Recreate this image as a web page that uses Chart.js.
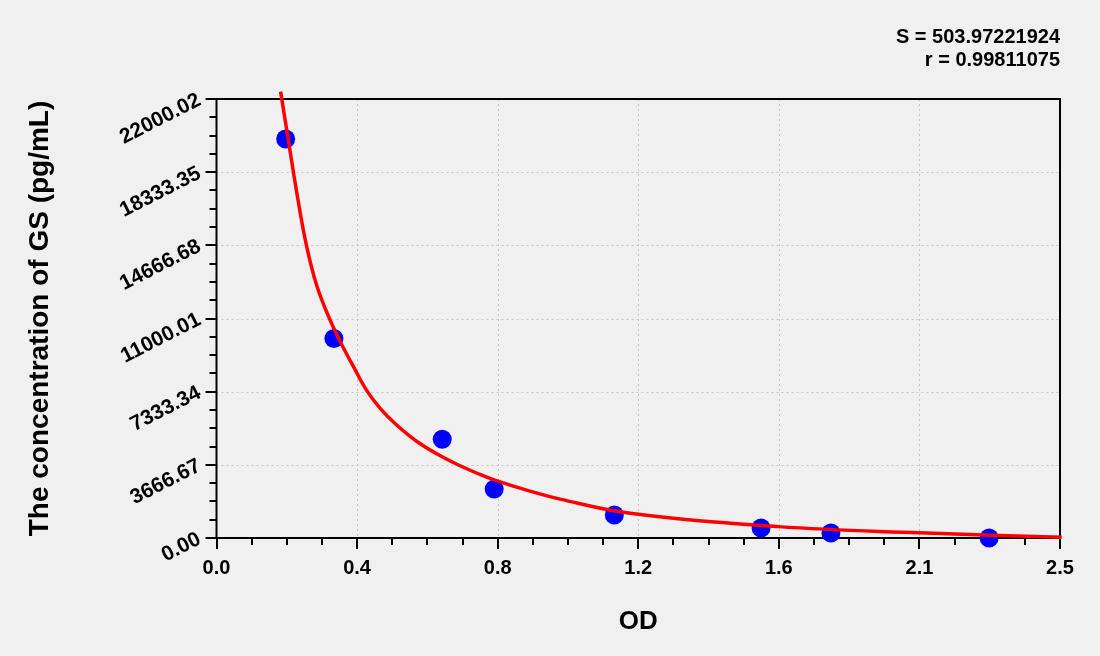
<!DOCTYPE html>
<html>
<head>
<meta charset="utf-8">
<title>GS standard curve</title>
<script src="https://cdn.jsdelivr.net/npm/chart.js@4.4.1/dist/chart.umd.min.js"></script>
<style>
  html, body { margin: 0; padding: 0; background: #f0f0f0; }
  #wrap { width: 1100px; height: 656px; position: relative; }
</style>
</head>
<body>
<div id="wrap"><canvas id="chart"></canvas></div>
<script>
// standards (OD, concentration)
var standardOD = [0.205, 0.348, 0.669, 0.823, 1.179, 1.614, 1.821, 2.290];
var standardConc = [20000, 10000, 4950, 2450, 1150, 500, 250, 0];

// fitted curve, sampled along the red line
var curveOD = [0.190, 0.213, 0.240, 0.267, 0.298, 0.336, 0.368, 0.406, 0.445, 0.485, 0.534, 0.593, 0.662, 0.722, 0.776, 0.825, 0.919, 1.018, 1.226, 1.665, 2.083, 2.505];
var curveConc = [22370, 19930, 17100, 14630, 12600, 10950, 9800, 8586, 7400, 6500, 5662, 4850, 4130, 3620, 3220, 2900, 2400, 1950, 1240, 570, 260, 35];

// axis labels
var xTickLabels = ['0.0', '0.4', '0.8', '1.2', '1.6', '2.1', '2.5'];
var yTickLabels = ['0.00', '3666.67', '7333.34', '11000.01', '14666.68', '18333.35', '22000.02'];
var xMax = 2.5;
var yMax = 22000.02;
var fitText = ['S = 503.97221924', 'r = 0.99811075'];

var MINOR = 4; // sub divisions between labelled ticks
var FONT = '"Liberation Sans", Arial, sans-serif';

function tickValues(max, labels) {
  var n = (labels.length - 1) * MINOR;
  var out = [];
  for (var i = 0; i <= n; i++) out.push({value: max * i / n});
  return out;
}

function pairs(xs, ys) {
  return xs.map(function(v, i) { return {x: v, y: ys[i]}; });
}

var frameGrid = {
  id: 'frameGrid',
  beforeDatasetsDraw: function(chart) {
    var ctx = chart.ctx, a = chart.chartArea;
    var xs = chart.scales.x, ys = chart.scales.y;
    ctx.save();
    // dotted grid at labelled ticks
    ctx.strokeStyle = '#c4c4c4';
    ctx.lineWidth = 1;
    ctx.setLineDash([2, 3]);
    xs.ticks.forEach(function(t, i) {
      if (i % MINOR || i === 0 || i === xs.ticks.length - 1) return;
      var px = Math.round(xs.getPixelForValue(t.value)) + 0.5;
      ctx.beginPath(); ctx.moveTo(px, a.top); ctx.lineTo(px, a.bottom); ctx.stroke();
    });
    ys.ticks.forEach(function(t, i) {
      if (i % MINOR || i === 0 || i === ys.ticks.length - 1) return;
      var py = Math.round(ys.getPixelForValue(t.value)) + 0.5;
      ctx.beginPath(); ctx.moveTo(a.left, py); ctx.lineTo(a.right, py); ctx.stroke();
    });
    // tick marks outside the frame
    ctx.setLineDash([]);
    ctx.strokeStyle = '#000';
    ctx.lineWidth = 2;
    xs.ticks.forEach(function(t, i) {
      var len = i % MINOR ? 7 : 11;
      var px = Math.round(xs.getPixelForValue(t.value));
      ctx.beginPath(); ctx.moveTo(px, a.bottom); ctx.lineTo(px, a.bottom + len); ctx.stroke();
    });
    ys.ticks.forEach(function(t, i) {
      var len = i % MINOR ? 7 : 11;
      var py = Math.round(ys.getPixelForValue(t.value));
      ctx.beginPath(); ctx.moveTo(a.left - len, py); ctx.lineTo(a.left, py); ctx.stroke();
    });
    ctx.strokeRect(a.left, a.top, a.right - a.left, a.bottom - a.top);
    ctx.restore();
  },
  afterDraw: function(chart) {
    var ctx = chart.ctx;
    ctx.save();
    ctx.fillStyle = '#000';
    ctx.font = 'bold 20px ' + FONT;
    ctx.textAlign = 'right';
    ctx.textBaseline = 'middle';
    ctx.fillText(fitText[0], chart.chartArea.right, 37);
    ctx.fillText(fitText[1], chart.chartArea.right, 60);
    ctx.restore();
  }
};

new Chart(document.getElementById('chart'), {
  type: 'scatter',
  data: {
    datasets: [{
      data: pairs(curveOD, curveConc),
      showLine: true,
      borderColor: '#ff0000',
      borderWidth: 3.5,
      pointRadius: 0,
      tension: 0.4,
      clip: false
    }, {
      data: pairs(standardOD, standardConc),
      pointRadius: 9.5,
      pointHoverRadius: 9.5,
      backgroundColor: '#0000ff',
      borderWidth: 0,
      clip: false
    }]
  },
  options: {
    responsive: true,
    maintainAspectRatio: false,
    animation: false,
    layout: {padding: {left: 0, right: 40, top: 99, bottom: 0}},
    plugins: {legend: {display: false}, tooltip: {enabled: false}},
    scales: {
      x: {
        type: 'linear',
        min: 0,
        max: xMax,
        afterBuildTicks: function(s) { s.ticks = tickValues(xMax, xTickLabels); },
        afterFit: function(s) { s.height = 118; },
        grid: {display: true, drawOnChartArea: false, drawTicks: true, tickLength: 11, tickColor: 'rgba(0,0,0,0)'},
        border: {display: false},
        ticks: {
          autoSkip: false,
          maxRotation: 0,
          padding: 7,
          color: '#000',
          font: {family: FONT, size: 20, weight: 'bold'},
          callback: function(v, i) { return i % MINOR ? '' : xTickLabels[i / MINOR]; }
        },
        title: {
          display: true,
          text: 'OD',
          color: '#000',
          font: {family: FONT, size: 26, weight: 'bold'},
          padding: {top: 0, bottom: 19}
        }
      },
      y: {
        type: 'linear',
        min: 0,
        max: yMax,
        afterBuildTicks: function(s) { s.ticks = tickValues(yMax, yTickLabels); },
        afterFit: function(s) { s.width = 216.5; },
        grid: {display: true, drawOnChartArea: false, drawTicks: true, tickLength: 11, tickColor: 'rgba(0,0,0,0)'},
        border: {display: false},
        ticks: {
          autoSkip: false,
          minRotation: 27,
          maxRotation: 27,
          padding: 6,
          color: '#000',
          font: {family: FONT, size: 21, weight: 'bold'},
          callback: function(v, i) { return i % MINOR ? '' : yTickLabels[i / MINOR]; }
        },
        title: {
          display: true,
          text: 'The concentration of GS (pg/mL)',
          color: '#000',
          font: {family: FONT, size: 28, weight: 'bold'},
          padding: {top: 23, bottom: 0}
        }
      }
    }
  },
  plugins: [frameGrid]
});
</script>
</body>
</html>
